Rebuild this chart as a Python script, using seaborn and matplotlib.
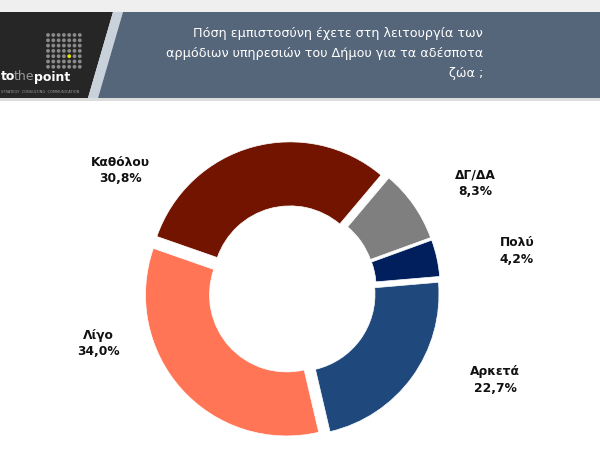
import matplotlib
matplotlib.use("Agg")
import matplotlib.pyplot as plt
import seaborn as sns
from matplotlib.patches import Polygon, Rectangle, Circle

sns.set_theme(style="white")
plt.rcParams['font.family'] = ['DejaVu Sans']

# ---- data ----
categories = ["Πολύ", "Αρκετά", "Λίγο", "Καθόλου", "ΔΓ/ΔΑ"]
values = [4.2, 22.7, 34.0, 30.8, 8.3]
value_labels = ["4,2%", "22,7%", "34,0%", "30,8%", "8,3%"]
colors = ["#001f5c", "#1f497d", "#ff7555", "#721400", "#7f7f7f"]
title_lines = ["Πόση εμπιστοσύνη έχετε στη λειτουργία των",
               "αρμόδιων υπηρεσιών του Δήμου για τα αδέσποτα",
               "ζώα ;"]

# label anchor positions in pixels (layout)
label_pos = [(517, 243), (495, 372), (98, 335), (120, 162), (475, 175)]

W, H = 600, 449
fig = plt.figure(figsize=(6.0, 4.49), dpi=100)
fig.patch.set_facecolor("white")

# header overlay axes in pixel coords
bg = fig.add_axes([0, 0, 1, 1])
bg.set_xlim(0, W)
bg.set_ylim(H, 0)
bg.axis("off")
bg.add_patch(Rectangle((0, 0), W, 12, color="#efefef", lw=0))
bg.add_patch(Rectangle((0, 98), W, 3, color="#dcdcdc", lw=0))
bg.add_patch(Polygon([(0, 12), (113, 12), (88, 98), (0, 98)], closed=True, color="#262626", lw=0))
bg.add_patch(Polygon([(113, 12), (123, 12), (98, 98), (88, 98)], closed=True, color="#c9d1db", lw=0))
bg.add_patch(Polygon([(123, 12), (W, 12), (W, 98), (98, 98)], closed=True, color="#56667a", lw=0))

# logo dot grid
for i in range(7):
    for j in range(7):
        dx = 48 + i * 5.3
        dy = 35 + j * 5.3
        col = "#e6e600" if (i == 4 and j == 4) else "#8a8a8a"
        bg.add_patch(Circle((dx, dy), 1.9, color=col, lw=0))
bg.text(1, 77, "to", color="white", fontsize=9, fontweight="bold", va="center", ha="left")
bg.text(14, 77, "the", color="#9a9a9a", fontsize=9, va="center", ha="left")
bg.text(34, 77, "point", color="white", fontsize=9, fontweight="bold", va="center", ha="left")
bg.text(1, 92, "STRATEGY  CONSULTING  COMMUNICATION", color="#9a9a9a", fontsize=2.6, va="center", ha="left")

# title
for k, line in enumerate(title_lines):
    bg.text(483, 33 + k * 20.5, line, color="white", fontsize=9.2, ha="right", va="center")

# pie
cx, cy, half = 292, 290, 160
ax = fig.add_axes([(cx - half) / W, (H - cy - half) / H, 2 * half / W, 2 * half / H])
ax.pie(values, colors=colors, startangle=20, counterclock=False,
       explode=[0.05] * len(values), radius=0.97,
       wedgeprops=dict(width=0.44, edgecolor="white", linewidth=0.5))
ax.set_xlim(-1.1, 1.1)
ax.set_ylim(-1.1, 1.1)
ax.set_aspect("equal")
ax.axis("off")

for (px, py), name, lab in zip(label_pos, categories, value_labels):
    bg.text(px, py, name, fontsize=8.8, fontweight="bold", ha="center", va="center", color="#111111")
    bg.text(px, py + 16.5, lab, fontsize=8.8, fontweight="bold", ha="center", va="center", color="#111111")

fig.savefig("out.png", dpi=100)
